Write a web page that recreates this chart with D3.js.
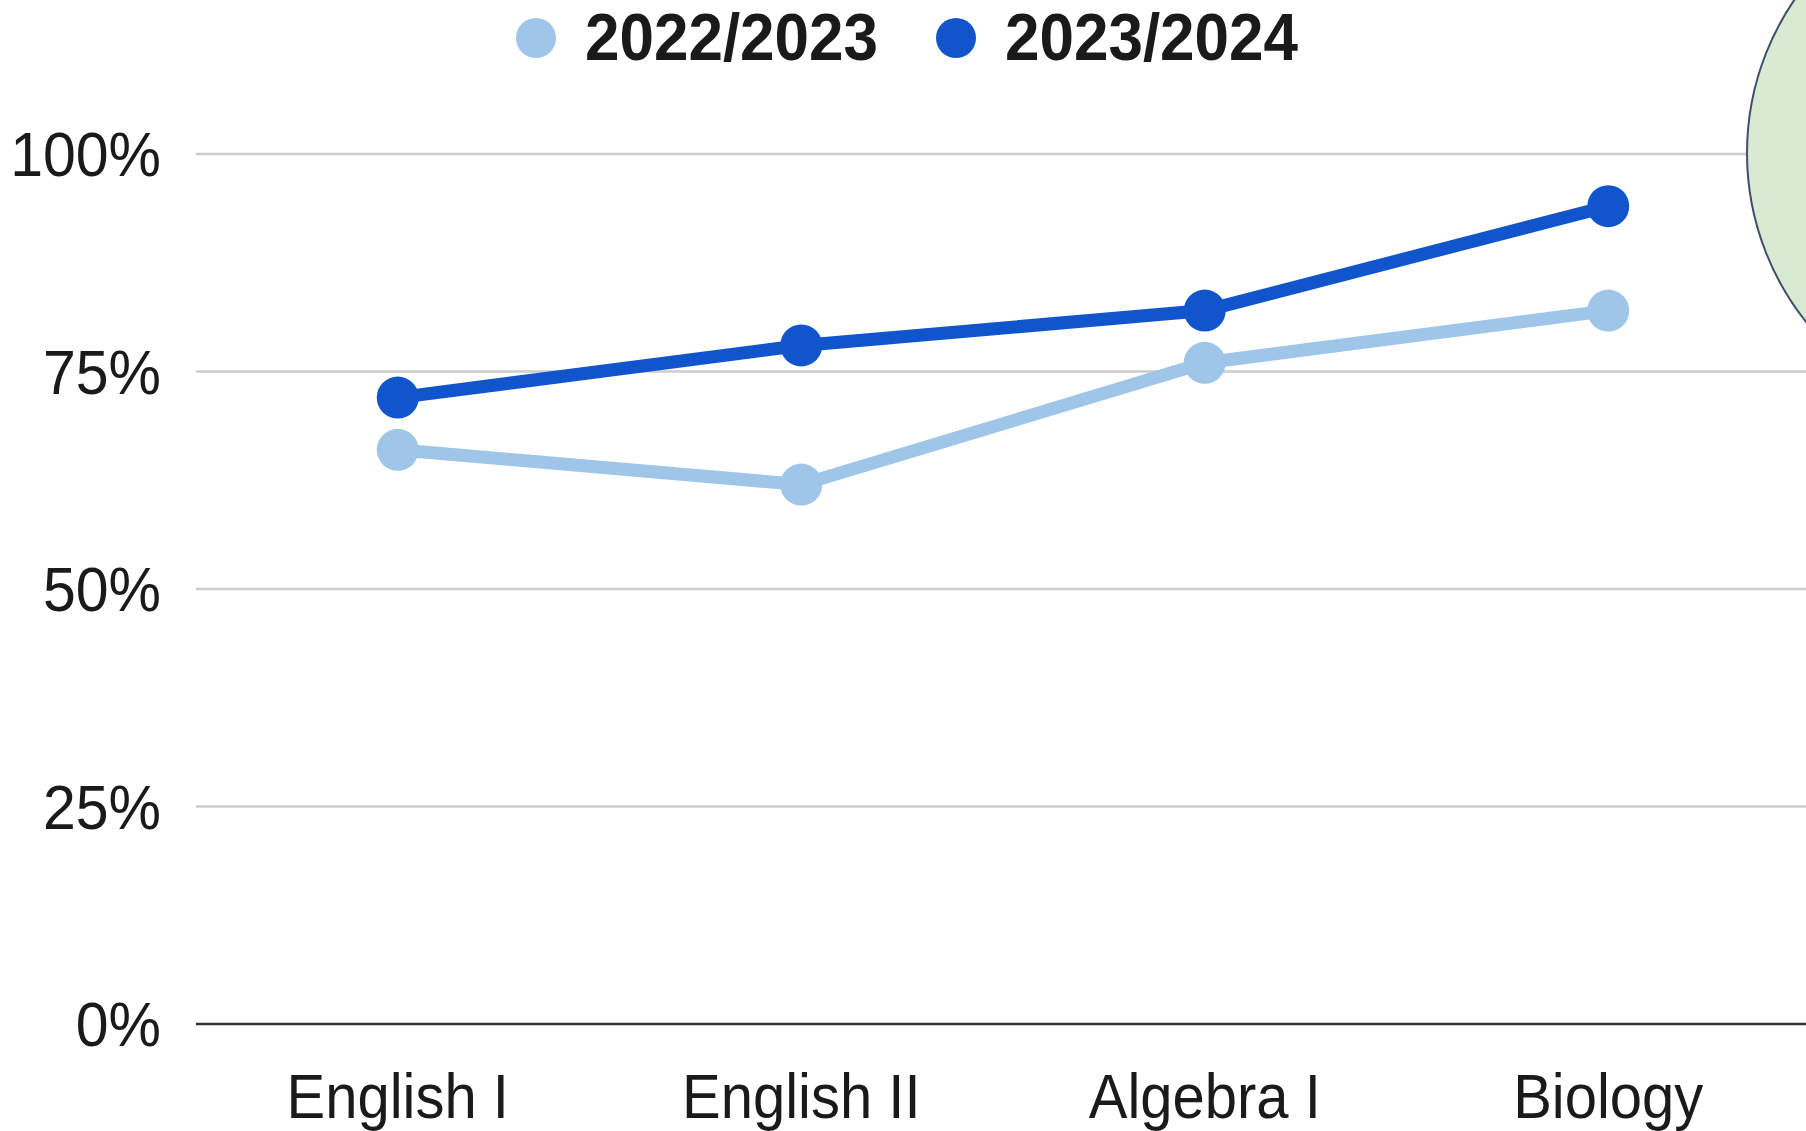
<!DOCTYPE html>
<html>
<head>
  <meta charset="UTF-8">
  <style>
    body {
      margin: 0;
      background-color: #ffffff;
      overflow: hidden;
    }
    svg {
      display: block;
      font-family: Arial, "Liberation Sans", sans-serif;
    }
  </style>
</head>
<body>

<svg></svg>

<script src="https://d3js.org/d3.v7.min.js"></script>

<script>
let width = 1806, height = 1131;

// chart data
let subjects = ["English I", "English II", "Algebra I", "Biology"];
let seriesNames = ["2022/2023", "2023/2024"];
let values2022 = [66, 62, 76, 82];
let values2023 = [72, 78, 82, 94];
let seriesColors = ["#9fc5e8", "#1155cc"];
let yTicks = [0, 25, 50, 75, 100];

let svg = d3.select("svg")
    .attr("width", width)
    .attr("height", height);

let x = d3.scalePoint()
    .domain(subjects)
    .range([196, 1810])
    .padding(0.5);

let y = d3.scaleLinear()
    .domain([0, 100])
    .range([1024, 154]);

// gridlines
svg.append("g")
  .selectAll("line")
  .data(yTicks.filter(d => d > 0))
  .enter()
  .append("line")
    .attr("x1", 196)
    .attr("x2", width)
    .attr("y1", d => y(d))
    .attr("y2", d => y(d))
    .attr("stroke", "#cccccc")
    .attr("stroke-width", 2.5);

// baseline
svg.append("line")
    .attr("x1", 196)
    .attr("x2", width)
    .attr("y1", y(0))
    .attr("y2", y(0))
    .attr("stroke", "#333333")
    .attr("stroke-width", 2.5);

// y labels
svg.append("g")
  .selectAll("text")
  .data(yTicks)
  .enter()
  .append("text")
    .attr("transform", d => `translate(161,${y(d) + 22}) scale(1,1.08)`)
    .attr("text-anchor", "end")
    .attr("font-size", 59)
    .attr("fill", "#1a1a1a")
    .text(d => d + "%");

// x labels
svg.append("g")
  .selectAll("text")
  .data(subjects)
  .enter()
  .append("text")
    .attr("transform", d => `translate(${x(d)},1118) scale(1,1.1)`)
    .attr("text-anchor", "middle")
    .attr("font-size", 58)
    .attr("fill", "#1a1a1a")
    .text(d => d);

// decorative circle at top right
svg.append("circle")
    .attr("cx", 2018)
    .attr("cy", 153)
    .attr("r", 271)
    .attr("fill", "#d9ead3")
    .attr("stroke", "#3d4f6b")
    .attr("stroke-width", 2);

// lines + points
let series = [values2022, values2023];
let line = d3.line()
    .x((d, i) => x(subjects[i]))
    .y(d => y(d));

series.forEach((vals, s) => {
  let g = svg.append("g");
  g.append("path")
      .datum(vals)
      .attr("d", line)
      .attr("fill", "none")
      .attr("stroke", seriesColors[s])
      .attr("stroke-width", 13)
      .attr("stroke-linejoin", "round");
  g.selectAll("circle")
    .data(vals)
    .enter()
    .append("circle")
      .attr("cx", (d, i) => x(subjects[i]))
      .attr("cy", d => y(d))
      .attr("r", 21)
      .attr("fill", seriesColors[s]);
});

// legend
let legendX = [536, 956];
let legend = svg.append("g")
  .selectAll("g")
  .data(seriesNames)
  .enter()
  .append("g");

legend.append("circle")
    .attr("cx", (d, i) => legendX[i])
    .attr("cy", 38)
    .attr("r", 20)
    .attr("fill", (d, i) => seriesColors[i]);

legend.append("text")
    .attr("transform", (d, i) => `translate(${legendX[i] + 49},60) scale(1,1.08)`)
    .attr("font-size", 62)
    .attr("font-weight", "bold")
    .attr("fill", "#1a1a1a")
    .text(d => d);
</script>

</body>
</html>
